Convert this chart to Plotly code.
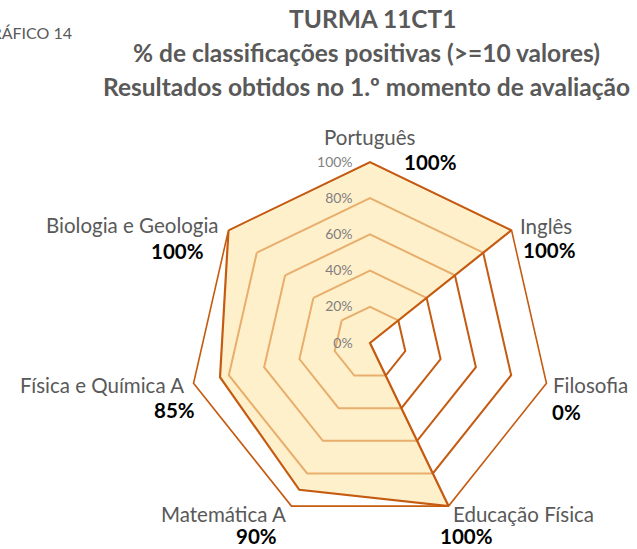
import plotly.graph_objects as go

categories = ["Português", "Inglês", "Filosofia", "Educação Física",
              "Matemática A", "Física e Química A", "Biologia e Geologia"]
values = [100, 100, 0, 100, 90, 85, 100]
radial_ticks = [0, 20, 40, 60, 80, 100]
radial_ticktext = [f"{v}%" for v in radial_ticks]
title_lines = ["TURMA 11CT1",
               "% de classificações positivas (>=10 valores)",
               "Resultados obtidos no 1.º momento de avaliação"]
chart_number = "GRÁFICO 14"

W, H = 637, 549
FONT = "Lato"
DARK = "#C55A11"
GRAY = "#595959"

fig = go.Figure()
fig.add_trace(go.Scatterpolar(
    r=values + values[:1],
    theta=categories + categories[:1],
    mode="lines",
    fill="toself",
    fillcolor="rgba(255,230,170,0.6)",
    line=dict(color=DARK, width=2.2),
    hoverinfo="skip",
    showlegend=False,
))

# polar placement: center (370,343), radius 181 px
cx, cy, R = 370, 343, 181
dom_x = [(cx - R) / W, (cx + R) / W]
dom_y = [(H - (cy + R)) / H, (H - (cy - R)) / H]

fig.update_layout(
    width=W, height=H,
    margin=dict(l=0, r=0, t=0, b=0),
    paper_bgcolor="white",
    font=dict(family=FONT, color=GRAY),
    polar=dict(
        domain=dict(x=dom_x, y=dom_y),
        bgcolor="rgba(0,0,0,0)",
        gridshape="linear",
        radialaxis=dict(
            range=[0, 100],
            tickvals=radial_ticks,
            ticktext=radial_ticktext,
            showline=False,
            ticks="outside",
            ticklen=12,
            tickcolor="rgba(0,0,0,0)",
            angle=90,
            tickangle=90,
            side="counterclockwise",
            gridcolor=DARK,
            gridwidth=1.6,
            tickfont=dict(size=14, color="#7F7F7F", family=FONT),
        ),
        angularaxis=dict(
            rotation=90,
            direction="clockwise",
            showticklabels=False,
            ticks="",
            showgrid=False,
            showline=True,
            linecolor=DARK,
            linewidth=1.6,
        ),
    ),
)

# category labels and value labels (positions in pixels)
cat_pos = [  # (x, y, xanchor) for category label
    (370, 137, "center"),
    (518, 226, "left"),
    (551, 385, "left"),
    (451, 514, "left"),
    (288, 514, "right"),
    (186, 385, "right"),
    (221, 225, "right"),
]
val_pos = [
    (430, 162, "center"),
    (549, 250, "center"),
    (566, 412, "center"),
    (466, 536, "center"),
    (256, 536, "center"),
    (174, 410, "center"),
    (177, 251, "center"),
]
for cat, v, (x1, y1, a1), (x2, y2, a2) in zip(categories, values, cat_pos, val_pos):
    fig.add_annotation(x=x1 / W, y=1 - y1 / H, xref="paper", yref="paper",
                       text=cat, showarrow=False, xanchor=a1, yanchor="middle",
                       font=dict(size=20.5, color=GRAY, family=FONT))
    fig.add_annotation(x=x2 / W, y=1 - y2 / H, xref="paper", yref="paper",
                       text=f"<b>{v}%</b>", showarrow=False, xanchor=a2, yanchor="middle",
                       font=dict(size=20.5, color="black", family=FONT))

# title
title_x = [373, 366, 366]
for i, line in enumerate(title_lines):
    fig.add_annotation(x=title_x[i] / W, y=1 - (18 + 34 * i) / H, xref="paper", yref="paper",
                       text=f"<b>{line}</b>", showarrow=False, xanchor="center", yanchor="middle",
                       font=dict(size=24.5, color=GRAY, family=FONT))

fig.add_annotation(x=74 / W, y=1 - 33 / H, xref="paper", yref="paper",
                   text=chart_number, showarrow=False, xanchor="right", yanchor="middle",
                   font=dict(size=16, color=GRAY, family=FONT))

fig.write_html("out.html", config={"displayModeBar": False},
               post_script="document.body.style.margin='0';")
